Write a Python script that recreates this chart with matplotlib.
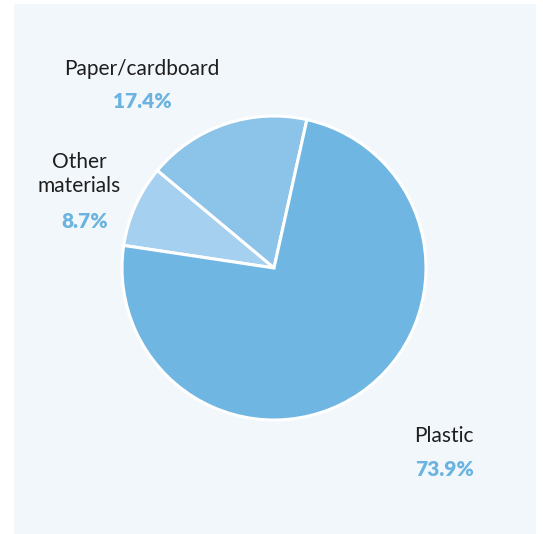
import matplotlib.pyplot as plt
from matplotlib.patches import Rectangle

# packaging waste share by material
labels = ["Paper/cardboard", "Other\nmaterials", "Plastic"]
shares = [17.4, 8.7, 73.9]
colors = ["#8cc3e8", "#a6d0ef", "#6fb7e2"]

W, H = 543, 534
fig = plt.figure(figsize=(W / 100, H / 100), dpi=100)
ax = fig.add_axes([0, 0, 1, 1])

# pale panel behind the chart
ax.add_patch(Rectangle((14, 0), 522, H - 4, facecolor="#f2f7fc", edgecolor="none", zorder=0))

ax.pie(shares, colors=colors, startangle=77.5, counterclock=True,
       center=(274, H - 268), radius=152,
       wedgeprops=dict(edgecolor="white", linewidth=2.2), frame=True)
ax.set_xlim(0, W)
ax.set_ylim(0, H)
ax.set_aspect("equal")
ax.axis("off")

name_style = dict(fontsize=15, family="Lato", weight="normal", color="#1e1e1e", ha="center", va="center")
pct_style = dict(fontsize=15, family="Lato", weight="heavy", color="#6cb4e0", ha="center", va="center")

ax.text(142, H - 69, labels[0], **name_style)
ax.text(142, H - 101, f"{shares[0]}%", **pct_style)
ax.text(79, H - 174, labels[1], linespacing=1.3, **name_style)
ax.text(85, H - 222, f"{shares[1]}%", **pct_style)
ax.text(444, H - 436, labels[2], **name_style)
ax.text(445, H - 470, f"{shares[2]}%", **pct_style)

fig.savefig("out.png", dpi=100)
